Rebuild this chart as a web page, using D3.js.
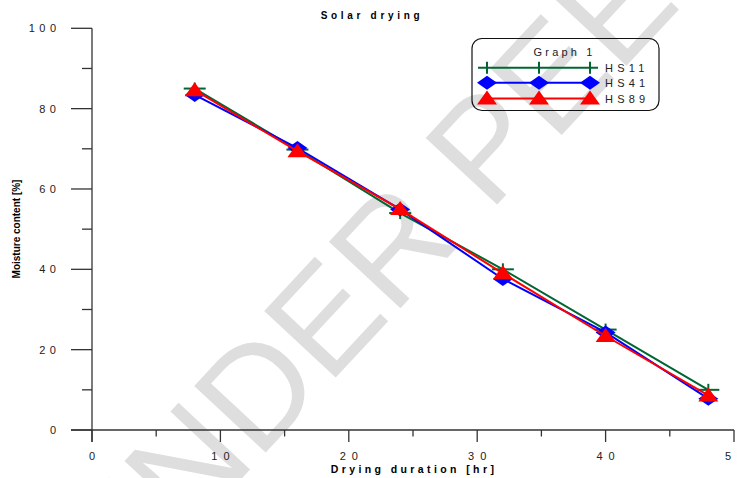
<!DOCTYPE html>
<html><head><meta charset="utf-8">
<script src="https://cdn.jsdelivr.net/npm/d3@7"></script>
<style>
html,body{margin:0;padding:0;background:#fff;}
svg{display:block;font-family:"Liberation Sans",Arial,sans-serif;}
</style></head>
<body>
<svg id="chart" width="737" height="478"></svg>
<script>
// Data
const hours = [8, 16, 24, 32, 40, 48];
const hs11 = [85.0, 69.8, 54.0, 40.0, 25.0, 10.0];
const hs41 = [83.4, 70.2, 54.9, 37.6, 24.3, 7.8];
const hs89 = [84.6, 69.4, 55.0, 39.0, 23.4, 8.6];
const seriesNames = ["HS11", "HS41", "HS89"];
const xTicks = [0, 10, 20, 30, 40, 50];
const yTicks = [0, 20, 40, 60, 80, 100];

const svg = d3.select("#chart");

// watermark
svg.append("text")
  .attr("transform", "translate(118,611) rotate(-47)")
  .attr("font-size", 142)
  .attr("fill", "#dedede")
  .attr("font-family", "Liberation Sans, Arial, sans-serif")
  .text("UNDER PEER REVIEW");

const x = d3.scaleLinear().domain([0, 50]).range([92, 734]);
const y = d3.scaleLinear().domain([0, 100]).range([430, 28.3]);

const axisColor = "#333";
const g = svg.append("g");

// Y axis line
g.append("line").attr("x1", x(0)).attr("x2", x(0)).attr("y1", y(100)).attr("y2", y(0) + 12)
  .attr("stroke", axisColor).attr("stroke-width", 1.3);
// X axis line
g.append("line").attr("x1", x(0) - 21).attr("x2", x(50)).attr("y1", y(0)).attr("y2", y(0))
  .attr("stroke", axisColor).attr("stroke-width", 1.3);

// Y ticks
d3.range(0, 101, 10).forEach(v => {
  const major = v % 20 === 0;
  g.append("line").attr("x1", x(0) - (major ? 21 : 10)).attr("x2", x(0))
    .attr("y1", y(v)).attr("y2", y(v)).attr("stroke", axisColor).attr("stroke-width", 1.3);
});
// X ticks
d3.range(0, 51, 5).forEach(v => {
  const major = v % 10 === 0;
  g.append("line").attr("x1", x(v)).attr("x2", x(v))
    .attr("y1", y(0)).attr("y2", y(0) + (major ? 12 : 6.5)).attr("stroke", axisColor).attr("stroke-width", 1.3);
});

const lsY = 4.5, lsX = 6;
yTicks.forEach(v => {
  g.append("text").attr("x", 56 + lsY).attr("y", y(v) + 4)
    .attr("text-anchor", "end").attr("font-size", 11).style("letter-spacing", lsY + "px")
    .attr("fill", "#222").text(String(v));
});
xTicks.forEach(v => {
  g.append("text").attr("x", x(v) + lsX / 2).attr("y", 460)
    .attr("text-anchor", "middle").attr("font-size", 11).style("letter-spacing", lsX + "px")
    .attr("fill", "#222").text(String(v));
});

// Titles
svg.append("text").attr("x", 370 + 2).attr("y", 19).attr("text-anchor", "middle")
  .attr("font-size", 10).attr("font-weight", "bold").style("letter-spacing", "3.7px")
  .text("Solar drying");
svg.append("text").attr("x", 412 + 2).attr("y", 473).attr("text-anchor", "middle")
  .attr("font-size", 10.5).attr("font-weight", "bold").style("letter-spacing", "3.4px")
  .text("Drying duration [hr]");
svg.append("text").attr("transform", "translate(20,229) rotate(-90)").attr("text-anchor", "middle")
  .attr("font-size", 10).attr("font-weight", "bold")
  .text("Moisture content [%]");

// Series
const colors = {HS11: "#006633", HS41: "#0000ff", HS89: "#ff0000"};
const data = [
  {name: "HS11", vals: hs11},
  {name: "HS41", vals: hs41},
  {name: "HS89", vals: hs89}
];
const line = d3.line().x(d => x(d[0])).y(d => y(d[1]));

function marker(sel, name, cx, cy) {
  const c = colors[name];
  if (name === "HS11") {
    sel.append("line").attr("x1", cx - 11).attr("x2", cx + 11).attr("y1", cy).attr("y2", cy)
      .attr("stroke", c).attr("stroke-width", 2);
    sel.append("line").attr("x1", cx).attr("x2", cx).attr("y1", cy - 6).attr("y2", cy + 6)
      .attr("stroke", c).attr("stroke-width", 2);
  } else if (name === "HS41") {
    sel.append("path").attr("d", `M${cx - 10},${cy} L${cx},${cy - 7} L${cx + 10},${cy} L${cx},${cy + 7} Z`)
      .attr("fill", c);
  } else {
    sel.append("path").attr("d", `M${cx - 10},${cy + 6} L${cx},${cy - 8} L${cx + 10},${cy + 6} Z`)
      .attr("fill", c);
  }
}

data.forEach(s => {
  const pts = hours.map((h, i) => [h, s.vals[i]]);
  const sg = svg.append("g");
  sg.append("path").attr("d", line(pts)).attr("fill", "none")
    .attr("stroke", colors[s.name]).attr("stroke-width", 2);
  pts.forEach(p => marker(sg, s.name, x(p[0]), y(p[1])));
});

// Legend
const lg = svg.append("g");
lg.append("rect").attr("x", 472).attr("y", 38.5).attr("width", 187).attr("height", 72)
  .attr("rx", 10).attr("ry", 10).attr("fill", "none")
  .attr("stroke", "#111").attr("stroke-width", 1.2);
lg.append("text").attr("x", 563 + 1.6).attr("y", 56).attr("text-anchor", "middle")
  .attr("font-size", 11).style("letter-spacing", "3.2px").attr("fill", "#222").text("Graph 1");
const rowY = [67.7, 82.7, 98.5];
seriesNames.forEach((n, i) => {
  const ry = rowY[i];
  lg.append("line").attr("x1", n === "HS11" ? 478 : 487).attr("x2", n === "HS11" ? 598 : 590)
    .attr("y1", ry).attr("y2", ry).attr("stroke", colors[n]).attr("stroke-width", 2);
  [487, 539, 590].forEach(mx => {
    if (n === "HS11") {
      lg.append("line").attr("x1", mx).attr("x2", mx).attr("y1", ry - 6).attr("y2", ry + 6)
        .attr("stroke", colors[n]).attr("stroke-width", 2);
    } else {
      marker(lg, n, mx, ry);
    }
  });
  lg.append("text").attr("x", 605).attr("y", ry + 4).attr("font-size", 11)
    .style("letter-spacing", "4.2px").attr("fill", "#222").text(n);
});
</script>
</body></html>
